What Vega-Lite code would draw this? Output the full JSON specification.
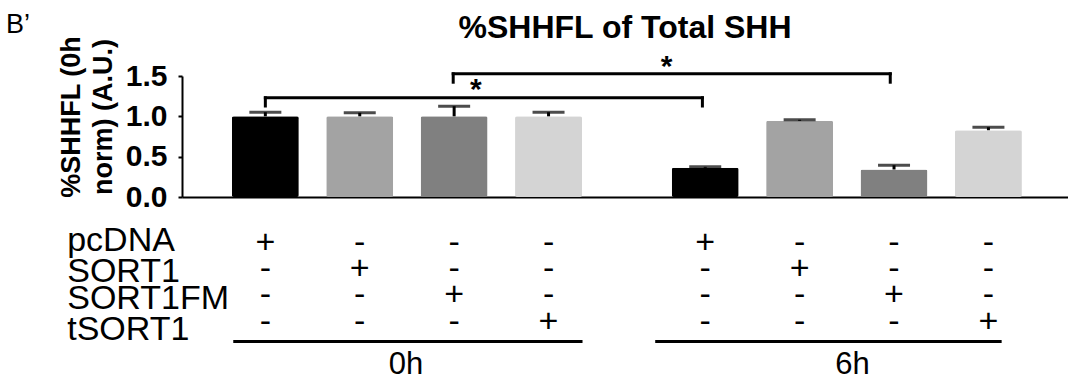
{
  "$schema": "https://vega.github.io/schema/vega-lite/v6.json",
  "background": "white",
  "padding": {"left": 5, "top": 10, "right": 0, "bottom": 0},
  "config": {
    "font": "Liberation Sans",
    "view": {"stroke": null},
    "axis": {"domainColor": "black", "tickColor": "black", "labelColor": "black", "titleColor": "black", "grid": false},
    "title": {"color": "black"}
  },
  "title": {"text": "B’", "orient": "left", "anchor": "end", "angle": 0, "align": "right", "baseline": "top", "fontSize": 27, "fontWeight": "normal", "offset": 3, "frame": "bounds"},
  "datasets": {
    "bars": [
      {"time": "0h", "cond": "pcDNA", "pos": 1, "value": 1.0, "upper": 1.051},
      {"time": "0h", "cond": "SORT1", "pos": 2, "value": 1.0, "upper": 1.044},
      {"time": "0h", "cond": "SORT1FM", "pos": 3, "value": 1.0, "upper": 1.126},
      {"time": "0h", "cond": "tSORT1", "pos": 4, "value": 1.0, "upper": 1.051},
      {"time": "6h", "cond": "pcDNA", "pos": 5.66, "value": 0.362, "upper": 0.374},
      {"time": "6h", "cond": "SORT1", "pos": 6.66, "value": 0.945, "upper": 0.957},
      {"time": "6h", "cond": "SORT1FM", "pos": 7.66, "value": 0.341, "upper": 0.394},
      {"time": "6h", "cond": "tSORT1", "pos": 8.66, "value": 0.828, "upper": 0.865}
    ],
    "brackets": [
      {"x1": 1.0, "x2": 5.63, "y": 1.23},
      {"x1": 2.99, "x2": 7.62, "y": 1.527}
    ],
    "legs": [
      {"x": 1.0, "y": 1.128, "y2": 1.23},
      {"x": 5.63, "y": 1.128, "y2": 1.23},
      {"x": 2.99, "y": 1.423, "y2": 1.527},
      {"x": 7.62, "y": 1.423, "y2": 1.527}
    ],
    "stars": [
      {"x": 3.23, "y": 1.21, "label": "*"},
      {"x": 5.25, "y": 1.5, "label": "*"}
    ],
    "signs": [
      {"pos": 1, "construct": "pcDNA", "sign": "+"},
      {"pos": 1, "construct": "SORT1", "sign": "-"},
      {"pos": 1, "construct": "SORT1FM", "sign": "-"},
      {"pos": 1, "construct": "tSORT1", "sign": "-"},
      {"pos": 2, "construct": "pcDNA", "sign": "-"},
      {"pos": 2, "construct": "SORT1", "sign": "+"},
      {"pos": 2, "construct": "SORT1FM", "sign": "-"},
      {"pos": 2, "construct": "tSORT1", "sign": "-"},
      {"pos": 3, "construct": "pcDNA", "sign": "-"},
      {"pos": 3, "construct": "SORT1", "sign": "-"},
      {"pos": 3, "construct": "SORT1FM", "sign": "+"},
      {"pos": 3, "construct": "tSORT1", "sign": "-"},
      {"pos": 4, "construct": "pcDNA", "sign": "-"},
      {"pos": 4, "construct": "SORT1", "sign": "-"},
      {"pos": 4, "construct": "SORT1FM", "sign": "-"},
      {"pos": 4, "construct": "tSORT1", "sign": "+"},
      {"pos": 5.66, "construct": "pcDNA", "sign": "+"},
      {"pos": 5.66, "construct": "SORT1", "sign": "-"},
      {"pos": 5.66, "construct": "SORT1FM", "sign": "-"},
      {"pos": 5.66, "construct": "tSORT1", "sign": "-"},
      {"pos": 6.66, "construct": "pcDNA", "sign": "-"},
      {"pos": 6.66, "construct": "SORT1", "sign": "+"},
      {"pos": 6.66, "construct": "SORT1FM", "sign": "-"},
      {"pos": 6.66, "construct": "tSORT1", "sign": "-"},
      {"pos": 7.66, "construct": "pcDNA", "sign": "-"},
      {"pos": 7.66, "construct": "SORT1", "sign": "-"},
      {"pos": 7.66, "construct": "SORT1FM", "sign": "+"},
      {"pos": 7.66, "construct": "tSORT1", "sign": "-"},
      {"pos": 8.66, "construct": "pcDNA", "sign": "-"},
      {"pos": 8.66, "construct": "SORT1", "sign": "-"},
      {"pos": 8.66, "construct": "SORT1FM", "sign": "-"},
      {"pos": 8.66, "construct": "tSORT1", "sign": "+"}
    ],
    "groups": [
      {"group": "0h", "start": 0.66, "end": 4.36, "mid": 2.49},
      {"group": "6h", "start": 5.13, "end": 8.8, "mid": 7.22}
    ]
  },
  "resolve": {"scale": {"x": "shared"}},
  "spacing": 11,
  "vconcat": [
    {
      "width": 886,
      "height": 121,
      "title": {"text": "%SHHFL of Total SHH", "fontSize": 32, "fontWeight": "bold", "frame": "group", "anchor": "middle", "baseline": "alphabetic", "offset": -34},
      "layer": [
        {
          "data": {"name": "bars"},
          "mark": {"type": "bar", "size": 67, "cornerRadius": 2},
          "encoding": {
            "x": {"field": "pos", "type": "quantitative", "scale": {"domain": [0.17, 9.45], "nice": false, "zero": false},
                  "axis": {"domainWidth": 2, "ticks": false, "labels": false, "title": null}},
            "y": {"field": "value", "type": "quantitative", "scale": {"domain": [0, 1.5], "nice": false},
                  "axis": {"values": [0, 0.5, 1, 1.5], "format": ".1f", "labelFontSize": 30, "labelFontWeight": "bold", "labelPadding": 11, "tickSize": 4, "tickWidth": 2, "domainWidth": 2,
                           "title": ["%SHHFL (0h", "norm) (A.U.)"], "titleFontSize": 27, "titleFontWeight": "bold", "titleAngle": -90, "titleX": -103, "titleY": 40.5, "titleAlign": "center", "titleBaseline": "alphabetic", "titleLineHeight": 32}},
            "color": {"field": "cond", "type": "nominal", "scale": {"domain": ["pcDNA", "SORT1", "SORT1FM", "tSORT1"], "range": ["#000000", "#a3a3a3", "#808080", "#d4d4d4"]}, "legend": null}
          }
        },
        {
          "data": {"name": "bars"},
          "mark": {"type": "rule", "strokeWidth": 3, "color": "black"},
          "encoding": {
            "x": {"field": "pos", "type": "quantitative"},
            "y": {"field": "value", "type": "quantitative"},
            "y2": {"field": "upper"}
          }
        },
        {
          "data": {"name": "bars"},
          "mark": {"type": "tick", "orient": "horizontal", "size": 32, "thickness": 3, "color": "black"},
          "encoding": {
            "x": {"field": "pos", "type": "quantitative"},
            "y": {"field": "upper", "type": "quantitative"}
          }
        },
        {
          "data": {"name": "brackets"},
          "mark": {"type": "rule", "strokeWidth": 3, "color": "black", "strokeCap": "square"},
          "encoding": {
            "x": {"field": "x1", "type": "quantitative"},
            "x2": {"field": "x2"},
            "y": {"field": "y", "type": "quantitative"}
          }
        },
        {
          "data": {"name": "legs"},
          "mark": {"type": "rule", "strokeWidth": 3, "color": "black", "strokeCap": "square"},
          "encoding": {
            "x": {"field": "x", "type": "quantitative"},
            "y": {"field": "y", "type": "quantitative"},
            "y2": {"field": "y2"}
          }
        },
        {
          "data": {"name": "stars"},
          "mark": {"type": "text", "fontSize": 30, "fontWeight": "bold", "baseline": "alphabetic", "align": "center", "color": "black"},
          "encoding": {
            "x": {"field": "x", "type": "quantitative"},
            "y": {"field": "y", "type": "quantitative"},
            "text": {"field": "label"}
          }
        }
      ]
    },
    {
      "width": 886,
      "height": 118.6,
      "layer": [
        {
          "data": {"name": "signs"},
          "mark": {"type": "text", "fontSize": 34, "baseline": "middle", "align": "center", "color": "black"},
          "encoding": {
            "x": {"field": "pos", "type": "quantitative", "axis": null},
            "y": {"field": "construct", "type": "ordinal", "scale": {"type": "point", "domain": ["pcDNA", "SORT1", "SORT1FM", "tSORT1"], "padding": 0.763},
                  "axis": {"domain": false, "ticks": false, "tickSize": 0, "labelFontSize": 34, "labelAlign": "left", "labelPadding": 115.3, "title": null, "labelLimit": 300,
                           "labelOffset": {"condition": [{"test": "datum.value === 'tSORT1'", "value": 8}, {"test": "datum.value === 'pcDNA'", "value": -2}], "value": 2.6}}},
            "text": {"field": "sign"}
          }
        },
        {
          "data": {"name": "groups"},
          "mark": {"type": "rule", "strokeWidth": 3, "color": "black"},
          "encoding": {
            "x": {"field": "start", "type": "quantitative"},
            "x2": {"field": "end"},
            "y": {"value": "height"}
          }
        },
        {
          "data": {"name": "groups"},
          "mark": {"type": "text", "fontSize": 31, "baseline": "middle", "align": "center", "dy": 23, "color": "black"},
          "encoding": {
            "x": {"field": "mid", "type": "quantitative"},
            "y": {"value": "height"},
            "text": {"field": "group"}
          }
        }
      ]
    }
  ]
}
